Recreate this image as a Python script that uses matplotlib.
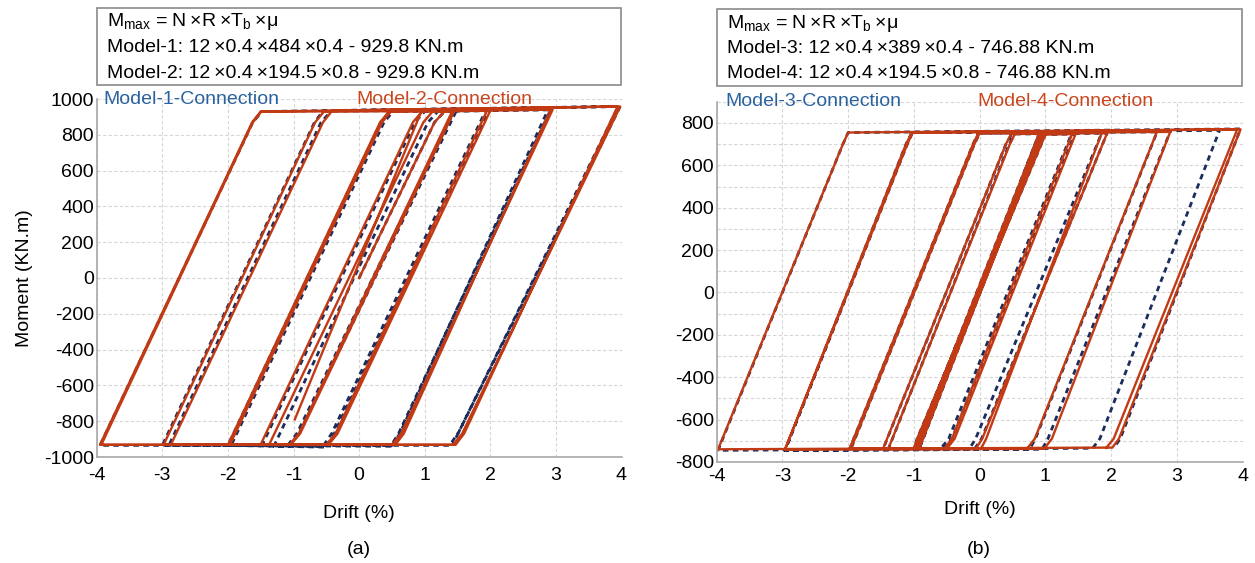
import matplotlib
matplotlib.use('Agg')
import matplotlib.pyplot as plt
from matplotlib.patches import Rectangle

plt.rcParams['font.family'] = ['Liberation Sans', 'DejaVu Sans']
plt.rcParams['mathtext.fontset'] = 'custom'
plt.rcParams['mathtext.rm'] = 'Liberation Sans'
plt.rcParams['mathtext.it'] = 'Liberation Sans'
plt.rcParams['axes.unicode_minus'] = False

# panel (a): drift (%) / moment (KN.m) paths
m1_drift = [0, 1.15, 1.3, 1.48, -0.92, -1.06, -1.48, 0.85, 1.0, 1.45, -0.95, -1.1, -1.3,
            1.05, 1.2, 1.97, -0.38, -0.5, -2.0, 0.33, 0.48, 1.93, -0.42, -0.55, -1.95,
            0.38, 0.52, 2.92, 0.6, 0.48, -3.0, -0.68, -0.55, 2.88, 0.62, 0.5, -2.9,
            -0.58, -0.42, 3.98, 1.52, 1.38, -3.95, -1.62, -1.48, 3.95, 1.52, 1.42]
m1_moment = [0, 870, 930, 932, -870, -935, -935, 870, 930, 932, -870, -940, -940,
             870, 930, 935, -870, -945, -935, 870, 932, 935, -870, -940, -935,
             870, 932, 940, -870, -940, -935, 870, 932, 940, -870, -935, -935,
             870, 935, 958, -860, -935, -935, 870, 930, 958, -860, -935]

m2_drift = [0, 1.15, 1.3, 1.45, -0.9, -1.04, -1.5, 0.82, 0.96, 1.42, -0.92, -1.06, -1.37,
            0.98, 1.12, 2.0, -0.33, -0.47, -2.0, 0.32, 0.46, 1.95, -0.36, -0.5, -1.97,
            0.35, 0.49, 2.95, 0.64, 0.5, -2.98, -0.67, -0.53, 2.92, 0.68, 0.55, -2.87,
            -0.55, -0.41, 3.98, 1.57, 1.43, -3.95, -1.63, -1.5, 3.94, 1.6, 1.47, -3.93,
            -1.62, -1.49, 0.95, -0.98]
m2_moment = [0, 870, 930, 932, -870, -930, -930, 870, 930, 932, -870, -930, -930,
             870, 930, 935, -870, -932, -932, 870, 932, 935, -870, -932, -932,
             870, 932, 940, -870, -932, -932, 870, 932, 940, -870, -932, -932,
             870, 935, 958, -870, -932, -932, 870, 930, 958, -870, -932, -932,
             870, 930, 932, -790]

# panel (b)
m3_drift = [0, 0.92, 1.0, -0.95, -1.0, 0.95, -0.92, 0.9, -0.98, 0.97, 1.45, -0.42, -0.55,
            -1.47, 0.4, 0.49, 1.4, -0.47, -0.6, -1.39, 0.45, 0.54, 1.94, 0.03, -0.08,
            -1.98, -0.1, -0.02, 1.86, -0.06, -0.16, -1.96, -0.08, 0.0, 2.7, 0.85, 0.76,
            -2.96, -1.12, -1.03, 2.9, 1.04, 0.95, -2.96, -1.1, -1.02, 3.65, 1.83, 1.72,
            -3.98, -2.08, -2.0, 3.97, 2.14, 2.05]
m3_moment = [0, 700, 745, -690, -738, 745, -738, 745, -738, 745, 748, -690, -740,
             -740, 700, 748, 750, -690, -740, -740, 700, 750, 752, -690, -740,
             -740, 700, 752, 754, -690, -740, -740, 700, 752, 758, -690, -740,
             -745, 700, 755, 760, -690, -740, -745, 700, 755, 765, -690, -735,
             -745, 700, 755, 772, -690, -730]

m4_drift = [0, 0.92, 1.0, -0.95, -1.0, 0.95, -0.92, 0.9, -0.98, 0.97, -0.94, 0.93,
            1.46, -0.38, -0.5, -1.47, 0.4, 0.48, 1.41, -0.42, -0.54, -1.39, 0.46, 0.54,
            1.94, 0.04, -0.06, -1.98, -0.1, -0.02, 1.86, 0.1, 0.02, -1.96, -0.08, 0.0,
            2.9, 1.1, 0.98, -2.96, -1.12, -1.03, 2.7, 0.84, 0.72, -2.96, -1.1, -1.02,
            3.97, 2.12, 2.02, -3.98, -2.08, -2.0, 3.92, 2.04, 1.93]
m4_moment = [0, 700, 745, -690, -738, 745, -738, 745, -738, 745, -738, 745,
             748, -690, -738, -738, 700, 748, 750, -690, -738, -738, 700, 750,
             752, -690, -738, -738, 700, 752, 754, -690, -738, -738, 700, 752,
             758, -690, -738, -740, 700, 755, 760, -690, -738, -740, 700, 755,
             770, -690, -732, -740, 700, 755, 770, -690, -732]

xticks = [-4, -3, -2, -1, 0, 1, 2, 3, 4]
yticks_a = list(range(-1000, 1001, 200))
yticks_b = list(range(-800, 801, 200))

X = '\u2009\u00d7'
box_a = ['M$_{\\mathregular{max}}$ = N' + X + 'R' + X + 'T$_{\\mathregular{b}}$' + X + '\u03bc',
         'Model-1: 12' + X + '0.4' + X + '484' + X + '0.4 - 929.8 KN.m',
         'Model-2: 12' + X + '0.4' + X + '194.5' + X + '0.8 - 929.8 KN.m']
box_b = ['M$_{\\mathregular{max}}$ = N' + X + 'R' + X + 'T$_{\\mathregular{b}}$' + X + '\u03bc',
         'Model-3: 12' + X + '0.4' + X + '389' + X + '0.4 - 746.88 KN.m',
         'Model-4: 12' + X + '0.4' + X + '194.5' + X + '0.8 - 746.88 KN.m']

BLUE_LINE = '#1b2d5c'
RED_LINE = '#c23a14'
BLUE_TXT = '#2a62a0'
RED_TXT = '#c9461e'

W, H = 1255, 563
fig = plt.figure(figsize=(W / 100, H / 100), dpi=100)


def px(x0, y0, x1, y1):
    return [x0 / W, 1 - y1 / H, (x1 - x0) / W, (y1 - y0) / H]


def style(ax, ylim, yticks, ygrid, xpad, lpad):
    ax.set_xlim(-4, 4)
    ax.set_ylim(*ylim)
    ax.set_xticks(xticks)
    ax.set_yticks(yticks)
    ax.set_yticks(ygrid, minor=True)
    ax.tick_params(length=0, labelsize=14, which='both')
    ax.tick_params(axis='y', pad=2)
    ax.tick_params(axis='x', pad=xpad)
    ax.grid(True, which='both', color='#d6d6d6', linestyle=(0, (3, 2)), linewidth=0.8)
    ax.set_axisbelow(True)
    for s in ['top', 'right']:
        ax.spines[s].set_visible(False)
    for s in ['left', 'bottom']:
        ax.spines[s].set_color('#a8a8a8')
        ax.spines[s].set_linewidth(1.2)
    ax.set_xlabel('Drift (%)', fontsize=14, labelpad=lpad)


# panel (a)
ax1 = fig.add_axes(px(96.7, 99, 621.5, 457))
ax1.plot(m1_drift, m1_moment, color=BLUE_LINE, lw=2.0, ls=(0, (2, 1.6)))
ax1.plot(m2_drift, m2_moment, color=RED_LINE, lw=1.7)
style(ax1, (-1000, 1000), yticks_a, yticks_a, 7, 15)
ax1.set_ylabel('Moment (KN.m)', fontsize=14, labelpad=8)
ax1.text(0.013, 1.0, 'Model-1-Connection', transform=ax1.transAxes, color=BLUE_TXT,
         fontsize=14, va='center', ha='left')
ax1.text(0.495, 1.0, 'Model-2-Connection', transform=ax1.transAxes, color=RED_TXT,
         fontsize=14, va='center', ha='left')

# panel (b)
ax2 = fig.add_axes(px(716.7, 101.8, 1242.5, 462))
ax2.plot(m3_drift, m3_moment, color=BLUE_LINE, lw=2.0, ls=(0, (2, 1.6)))
ax2.plot(m4_drift, m4_moment, color=RED_LINE, lw=1.7)
style(ax2, (-800, 900), yticks_b, list(range(-800, 901, 100)), 4, 12)
ax2.text(0.016, 1.0, 'Model-3-Connection', transform=ax2.transAxes, color=BLUE_TXT,
         fontsize=14, va='center', ha='left')
ax2.text(0.495, 1.0, 'Model-4-Connection', transform=ax2.transAxes, color=RED_TXT,
         fontsize=14, va='center', ha='left')

# formula boxes
for (x0, y0, x1, y1), lines in [((97, 8, 621, 85), box_a), ((717, 9, 1242, 86), box_b)]:
    fig.patches.append(Rectangle((x0 / W, 1 - y1 / H), (x1 - x0) / W, (y1 - y0) / H,
                                 transform=fig.transFigure, fill=False,
                                 edgecolor='#8a8a8a', lw=1.2))
    for i, t in enumerate(lines):
        fig.text((x0 + 10) / W, 1 - (y0 + 14 + 25.5 * i) / H, t, fontsize=14,
                 va='center', ha='left')

fig.text(359 / W, 1 - 549 / H, '(a)', fontsize=14, ha='center', va='center')
fig.text(979 / W, 1 - 549 / H, '(b)', fontsize=14, ha='center', va='center')

fig.savefig('out.png', dpi=100)
